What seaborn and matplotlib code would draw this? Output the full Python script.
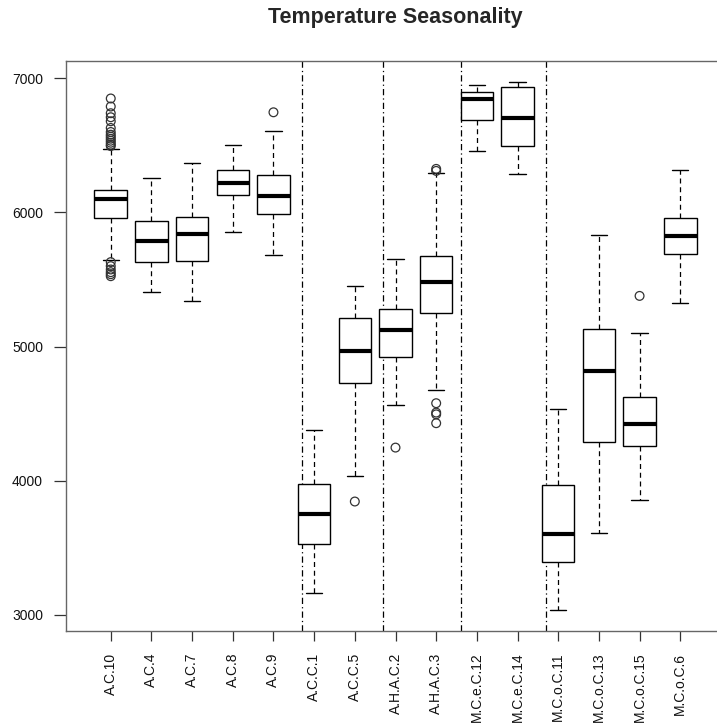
import numpy as np
import pandas as pd
import matplotlib
matplotlib.use("Agg")
import matplotlib.pyplot as plt
import seaborn as sns

# Groups (left to right)
categories = ["A.C.10", "A.C.4", "A.C.7", "A.C.8", "A.C.9",
              "A.C.C.1", "A.C.C.5", "A.H.A.C.2", "A.H.A.C.3",
              "M.C.e.C.12", "M.C.e.C.14",
              "M.C.o.C.11", "M.C.o.C.13", "M.C.o.C.15", "M.C.o.C.6"]

# Five-number summaries per group
whisker_low = [5648, 5405, 5340, 5857, 5681, 3162, 4036, 4563, 4677, 6458, 6289, 3037, 3611, 3857, 5323]
q1 = [5957, 5633, 5641, 6133, 5986, 3529, 4731, 4925, 5251, 6687, 6495, 3395, 4292, 4257, 5688]
median = [6100, 5787, 5837, 6222, 6125, 3755, 4970, 5122, 5484, 6848, 6704, 3604, 4819, 4426, 5827]
q3 = [6165, 5937, 5964, 6314, 6282, 3974, 5216, 5283, 5673, 6896, 6933, 3969, 5129, 4625, 5957]
whisker_high = [6475, 6259, 6367, 6503, 6607, 4379, 5454, 5653, 6294, 6948, 6972, 4535, 5830, 5102, 6314]

# Outlying observations
outlier_group = (["A.C.10"] * 20 + ["A.C.9", "A.C.C.5", "A.H.A.C.2"]
                 + ["A.H.A.C.3"] * 6 + ["M.C.o.C.15"])
outlier_value = [6850, 6790, 6740, 6710, 6680, 6630, 6600, 6580, 6565, 6550,
                 6535, 6520, 6505, 6495, 5630, 5600, 5575, 5555, 5540, 5525,
                 6747, 3845, 4247,
                 6325, 6310, 4578, 4508, 4495, 4429,
                 5378]

# Region separators (1-based group positions)
separators = [5.7, 7.7, 9.6, 11.7]

tick_values = [3000, 4000, 5000, 6000, 7000]

sns.set_style("white")
plt.rcParams["font.family"] = ["Liberation Sans", "DejaVu Sans"]

box_df = pd.DataFrame({
    "group": np.repeat(categories, 5),
    "value": np.column_stack([whisker_low, q1, median, q3, whisker_high]).ravel(),
})
out_df = pd.DataFrame({"group": outlier_group, "value": outlier_value})

W, H = 717, 726
fig = plt.figure(figsize=(W / 100, H / 100), dpi=100)
fig.patch.set_facecolor("white")
# plot region runs past the right edge of the canvas
ax = fig.add_axes([66 / W, (H - 631) / H, (725 - 66) / W, (631 - 61) / H])

sns.boxplot(
    data=box_df, x="group", y="value", order=categories,
    whis=(0, 100), width=0.8, showfliers=False,
    color="white", linecolor="black", linewidth=1.0,
    medianprops=dict(linewidth=3.0, color="black", solid_capstyle="butt"),
    whiskerprops=dict(linestyle=(0, (4, 3)), linewidth=0.9),
    capprops=dict(linewidth=1.0),
    ax=ax,
)

sns.stripplot(
    data=out_df, x="group", y="value", order=categories,
    jitter=False, size=6.3, marker="o",
    facecolor="none", edgecolor="#333333", linewidth=0.9,
    ax=ax,
)

for s in separators:
    ax.axvline(s - 1, color="black", linewidth=0.9,
               linestyle=(0, (5, 2.5, 1, 2.5)), zorder=0.5)

all_vals = np.concatenate([whisker_low, whisker_high, outlier_value])
lo, hi = all_vals.min(), all_vals.max()
pad = 0.04 * (hi - lo)
ax.set_ylim(lo - pad, hi + pad)
n = len(categories)
ax.set_xlim(-0.5 - 0.04 * n, n - 0.5 + 0.04 * n)

ax.set_yticks(tick_values)
ax.set_yticklabels([str(v) for v in tick_values])
ax.set_xlabel("")
ax.set_ylabel("")
ax.tick_params(axis="x", rotation=90, labelsize=10, length=7.5, width=0.9,
               color="#333333", pad=8, direction="out", bottom=True)
ax.tick_params(axis="y", labelsize=10, length=8.5, width=0.9,
               color="#333333", pad=8, direction="out", left=True,
               right=False)
for lab in ax.get_xticklabels() + ax.get_yticklabels():
    lab.set_color("#111111")

for name, sp in ax.spines.items():
    sp.set_color("#666666")
    sp.set_linewidth(1.0)
ax.spines["right"].set_visible(False)
ax.spines["left"].set_visible(True)
ax.spines["top"].set_visible(True)
ax.spines["bottom"].set_visible(True)

fig.text(395.5 / W, 1 - 18 / H, "Temperature Seasonality",
         ha="center", va="center", fontsize=15.5, fontweight="bold")

fig.savefig("out.png", dpi=100, facecolor="white")
